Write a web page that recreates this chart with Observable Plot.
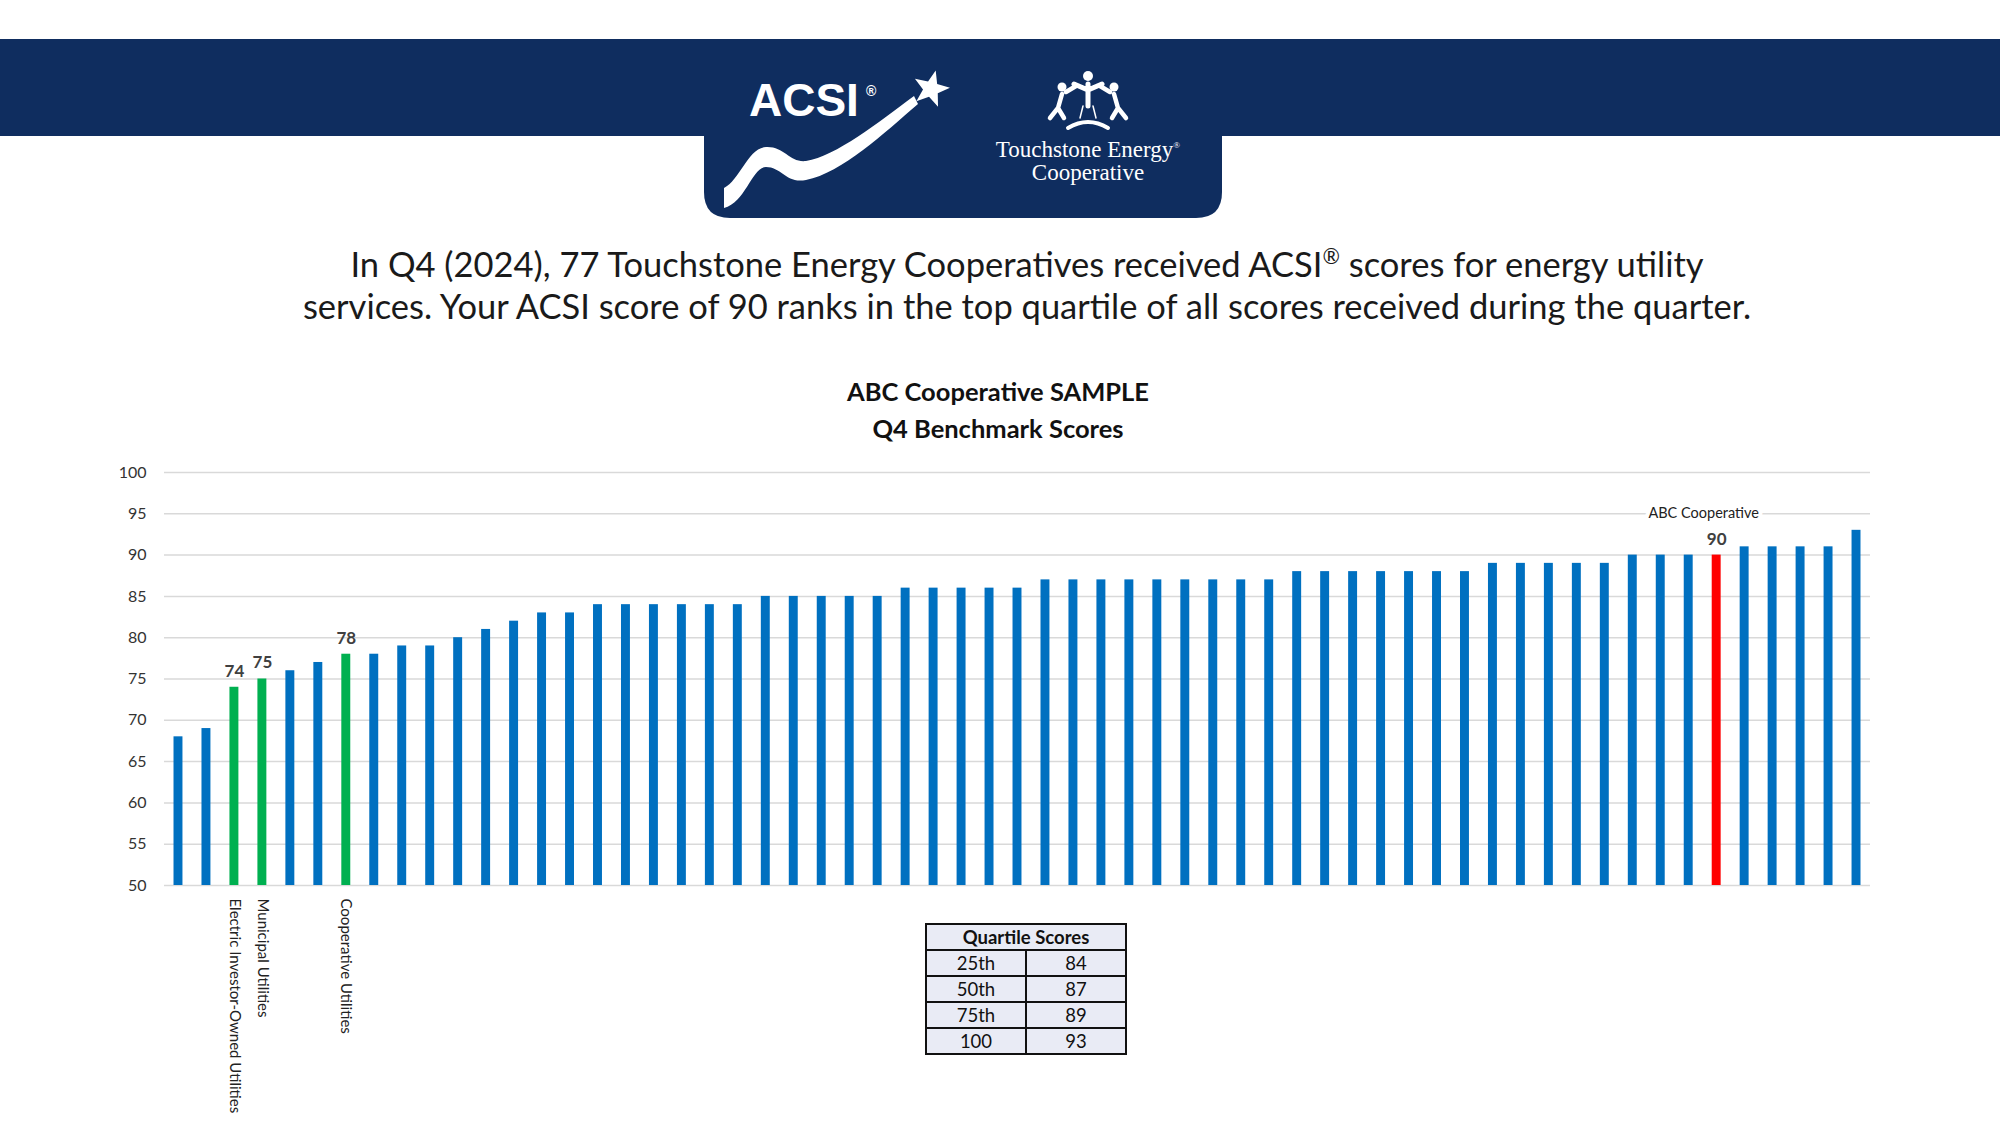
<!DOCTYPE html>
<html lang="en">
<head>
<meta charset="utf-8">
<title>ABC Cooperative SAMPLE — Q4 Benchmark Scores</title>
<script src="https://cdn.jsdelivr.net/npm/d3@7"></script>
<script src="https://cdn.jsdelivr.net/npm/@observablehq/plot@0.6"></script>
<style>
  html, body { margin: 0; padding: 0; background: #fff; }
  body { position: relative; width: 2000px; height: 1125px; overflow: hidden; font-family: Lato, "Open Sans", sans-serif; color: #111; }
  #masthead { position: absolute; left: 0; top: 0; }
  #chart { position: absolute; left: 0; top: 440px; }
  #quartiles { position: absolute; left: 925px; top: 923px; width: 202px; border-collapse: collapse; background: #e9ebf5; font-size: 18.5px; color: #111; }
  #quartiles th, #quartiles td { border: 2px solid #111; text-align: center; height: 24px; padding: 0; line-height: 24px; }
  #quartiles th { font-weight: 700; }
  #quartiles td { width: 50%; }
</style>
</head>
<body>
<svg id="masthead" width="2000" height="470"></svg>
<div id="chart"></div>
<table id="quartiles"></table>
<script>
// ---- Scores -------------------------------------------------------------
// Other Touchstone Energy cooperatives scored this quarter
const peerScores = [
  68, 69, 76, 77, 78, 79, 79, 80, 81, 82, 83, 83,
  84, 84, 84, 84, 84, 84,
  85, 85, 85, 85, 85,
  86, 86, 86, 86, 86,
  87, 87, 87, 87, 87, 87, 87, 87, 87,
  88, 88, 88, 88, 88, 88, 88,
  89, 89, 89, 89, 89,
  90, 90, 90,
  91, 91, 91, 91,
  93
];
// Industry segment benchmarks
const benchmarkLabels = ["Electric Investor-Owned Utilities", "Municipal Utilities", "Cooperative Utilities"];
const benchmarkScores = [74, 75, 78];
// The cooperative this report is for
const memberName = "ABC Cooperative";
const memberScore = 90;
// Quartile summary table
const quartileNames = ["25th", "50th", "75th", "100"];
const quartileValues = [84, 87, 89, 93];
// Axis
const yFloor = 50;
const yCeiling = 100;
const yTicks = d3.range(yFloor, yCeiling + 1, 5);

const headlineLine1 = ["In Q4 (2024), 77 Touchstone Energy Cooperatives received ACSI", "®", " scores for energy utility"];
const headlineLine2 = "services. Your ACSI score of 90 ranks in the top quartile of all scores received during the quarter.";
const chartTitle = ["ABC Cooperative SAMPLE", "Q4 Benchmark Scores"];

// ---- Masthead -----------------------------------------------------------
const navy = "#0f2d5f";
const head = d3.select("#masthead");
head.append("rect").attr("x", 0).attr("y", 39).attr("width", 2000).attr("height", 97).attr("fill", navy);
head.append("path").attr("d", "M704,39H1222V192Q1222,218 1196,218H730Q704,218 704,192Z").attr("fill", navy);

// ACSI wordmark with swoosh and star
head.append("text").attr("x", 749).attr("y", 116)
  .attr("font-family", "'Liberation Sans', Arial, sans-serif").attr("font-weight", 700)
  .attr("font-size", 46).attr("fill", "#fff").text("ACSI");
head.append("text").attr("x", 866).attr("y", 96)
  .attr("font-family", "'Liberation Sans', Arial, sans-serif").attr("font-weight", 700)
  .attr("font-size", 14).attr("fill", "#fff").text("®");
head.append("path").attr("fill", "#fff").attr("d",
  "M724,188 C740,180 748,148 766,147 C784,146 790,163 806,161 C836,156 878,123 914,96 " +
  "L918,104 C884,133 842,173 806,180 C786,184 782,167 766,167 C752,167 746,202 724,208 Z");
const star = d3.range(10).map(i => {
  const r = i % 2 ? 8 : 19;
  const a = -Math.PI / 2 + i * Math.PI / 5 + 0.25;
  return [931 + r * Math.cos(a), 89 + r * Math.sin(a)];
});
head.append("path").attr("fill", "#fff").attr("d", "M" + star.join("L") + "Z");

// Touchstone Energy emblem
const emblem = head.append("g").attr("fill", "none").attr("stroke", "#fff").attr("stroke-linecap", "round");
emblem.append("circle").attr("cx", 1088).attr("cy", 76).attr("r", 5).attr("fill", "#fff").attr("stroke", "none");
emblem.append("circle").attr("cx", 1062).attr("cy", 87).attr("r", 4.5).attr("fill", "#fff").attr("stroke", "none");
emblem.append("circle").attr("cx", 1114).attr("cy", 87).attr("r", 4.5).attr("fill", "#fff").attr("stroke", "none");
emblem.append("path").attr("stroke-width", 5).attr("d", "M1088,84V106M1074,84L1088,90L1102,84");
emblem.append("path").attr("stroke-width", 4.5).attr("d", "M1062,94L1058,108L1050,118M1058,108L1064,118M1066,92L1076,86");
emblem.append("path").attr("stroke-width", 4.5).attr("d", "M1114,94L1118,108L1126,118M1118,108L1112,118M1110,92L1100,86");
emblem.append("path").attr("stroke-width", 1.5).attr("d", "M1083,106L1080,118M1093,106L1096,118");
emblem.append("path").attr("stroke-width", 4).attr("d", "M1068,128Q1088,116 1108,128");
head.append("text").attr("x", 1088).attr("y", 157).attr("text-anchor", "middle")
  .attr("font-family", "'Liberation Serif', 'Times New Roman', serif").attr("font-size", 23).attr("fill", "#fff")
  .text("Touchstone Energy")
  .append("tspan").attr("font-size", 9).attr("dy", -9).text("®");
head.append("text").attr("x", 1088).attr("y", 180).attr("text-anchor", "middle")
  .attr("font-family", "'Liberation Serif', 'Times New Roman', serif").attr("font-size", 23).attr("fill", "#fff")
  .text("Cooperative");

// Headline
const headlineStyle = sel => sel.attr("x", 1027).attr("text-anchor", "middle")
  .attr("font-family", "Lato, sans-serif").attr("font-size", 34.5).attr("fill", "#1a1a1a");
const line1 = head.append("text").attr("y", 277).call(headlineStyle);
line1.append("tspan").text(headlineLine1[0]);
line1.append("tspan").attr("font-size", 21).attr("dy", -13).text(headlineLine1[1]);
line1.append("tspan").attr("dy", 13).text(headlineLine1[2]);
head.append("text").attr("y", 319).call(headlineStyle).text(headlineLine2);

// Chart title
chartTitle.forEach((line, i) => {
  head.append("text").attr("x", 998).attr("y", 401 + i * 37).attr("text-anchor", "middle")
    .attr("font-family", "Lato, sans-serif").attr("font-weight", 700).attr("font-size", 25.5).attr("fill", "#111")
    .text(line);
});

// ---- Ranked bars --------------------------------------------------------
const rows = [
  ...peerScores.map(score => ({ kind: "peer", score })),
  ...benchmarkLabels.map((label, i) => ({ kind: "benchmark", label, score: benchmarkScores[i] })),
  { kind: "member", label: memberName, score: memberScore }
];
// Ties: segment benchmarks sit before cooperatives, the member after them
const tieOrder = { benchmark: 0, peer: 1, member: 2 };
rows.sort((a, b) => a.score - b.score || tieOrder[a.kind] - tieOrder[b.kind]);
rows.forEach((d, i) => (d.rank = i));

const barColors = { peer: "#0070c0", benchmark: "#00b050", member: "#ff0000" };

const chart = Plot.plot({
  width: 2000,
  height: 680,
  marginLeft: 164,
  marginRight: 130,
  marginTop: 32,
  marginBottom: 235,
  style: { fontFamily: "Lato, sans-serif", background: "transparent" },
  x: { type: "band", domain: rows.map(d => d.rank), paddingInner: 0.68, paddingOuter: 0.34, axis: null },
  y: { domain: [yFloor, yCeiling] },
  marks: [
    Plot.ruleY(yTicks, { stroke: "#d9d9d9", strokeWidth: 1.5 }),
    Plot.axisY({ ticks: yTicks, tickSize: 0, tickPadding: 18, label: null, fontSize: 16, color: "#333" }),
    Plot.barY(rows, { x: "rank", y1: yFloor, y2: "score", fill: d => barColors[d.kind] }),
    Plot.text(rows.filter(d => d.kind !== "peer"), {
      x: "rank", y: "score", text: d => String(d.score), dy: -16,
      fontSize: 17, fontWeight: 700, fill: "#404040"
    }),
    Plot.text(rows.filter(d => d.kind === "member"), {
      x: "rank", y: "score", text: "label", dy: -42, dx: -13,
      fontSize: 14.5, fill: "#222", stroke: "#fff", strokeWidth: 8
    }),
    Plot.text(rows.filter(d => d.kind === "benchmark"), {
      x: "rank", y: yFloor, text: "label", rotate: 90, textAnchor: "start", dy: 13,
      fontSize: 15, fill: "#222"
    })
  ]
});
document.getElementById("chart").append(chart);

// ---- Quartile table -----------------------------------------------------
const table = d3.select("#quartiles");
table.append("tr").append("th").attr("colspan", 2).text("Quartile Scores");
quartileNames.forEach((name, i) => {
  const tr = table.append("tr");
  tr.append("td").text(name);
  tr.append("td").text(quartileValues[i]);
});
</script>
</body>
</html>
